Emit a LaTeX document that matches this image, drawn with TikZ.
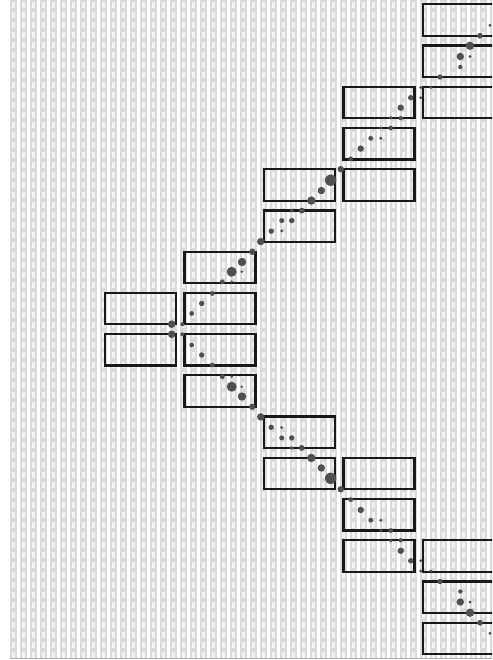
\documentclass[tikz,border=0pt]{standalone}
\definecolor{stripegray}{RGB}{218,218,218}
\definecolor{slotgray}{RGB}{242,242,242}
\definecolor{axisgray}{RGB}{170,170,170}
\definecolor{dotgray}{RGB}{80,80,80}
\definecolor{boxline}{RGB}{25,25,25}
\usetikzlibrary{calc}

\begin{document}
\begin{tikzpicture}[x=1pt, y=-1pt,
  cell/.style={draw=boxline, line width=2.2pt, minimum width=71pt,
    minimum height=31.5pt, inner sep=0pt},
  dot/.style={fill=dotgray},
]
\clip (0,0) rectangle (492,660);
% background stripes
\foreach \k in {0,...,48} {
  \fill[stripegray] (10+10*\k,0) rectangle ++(6.7,658);
  \draw[slotgray, line width=2.8pt, dash pattern=on 6.8pt off 3.2pt]
    (13.35+10*\k,1.6) -- ++(0,656);
}
\draw[axisgray, line width=1.2pt] (10,658.3) -- (492,658.3);
% boxes
\foreach \col/\row in {0/7,0/8,1/6,1/7,1/8,1/9,2/4,2/5,2/10,2/11,
    3/2,3/3,3/4,3/11,3/12,3/13,4/0,4/1,4/2,4/13,4/14,4/15}
  \node[cell] (c\col r\row) at ({140.5+79.5*\col},{20+41.23*\row}) {};
% dots, lower half and its mirror
\foreach \x/\y/\r in {171.7/334.3/3.8, 182.3/334.3/2, 191.7/345/2.4,
    201.7/355/2.7, 212.3/365/2.4, 222.3/376.7/2.4, 231.7/376.7/1.4,
    231.7/386.7/5, 241.7/386.7/1.4, 242/396.5/4.2, 252.3/406.7/3.2,
    260.7/416.9/3.7, 271.2/427.3/2.7, 281.7/427.6/1.6, 281.7/437.9/2.5,
    291.7/437.9/2.7, 291.7/447.9/1.9, 301.7/447.9/2.9, 311.3/457.9/4.2,
    321.3/467.9/3.7, 330.7/478.3/5.7, 340.7/489.3/3.2,
    350.7/499.6/2.4, 360.7/509.9/3.2, 370.7/520.2/2.4, 380.7/520.2/1.6,
    380.7/530.5/1.6, 390.7/530.5/2.4, 390.7/540.8/1.8, 400.7/540.3/2.2,
    400.7/550.8/3.2, 410.7/560.8/2.7,
    420.7/560.8/1.6, 420.7/571/1.6, 430.7/571/1.6, 440/581.5/2.7,
    460.3/591.5/2.2, 460.3/602/3.7, 470/602/1.6, 470/612.7/4.2,
    480/622.7/2.9, 490/633.2/1.6} {
  \fill[dot] (\x,\y) circle (\r);
  \fill[dot] (\x,658.5-\y) circle (\r);
}
\end{tikzpicture}
\end{document}
